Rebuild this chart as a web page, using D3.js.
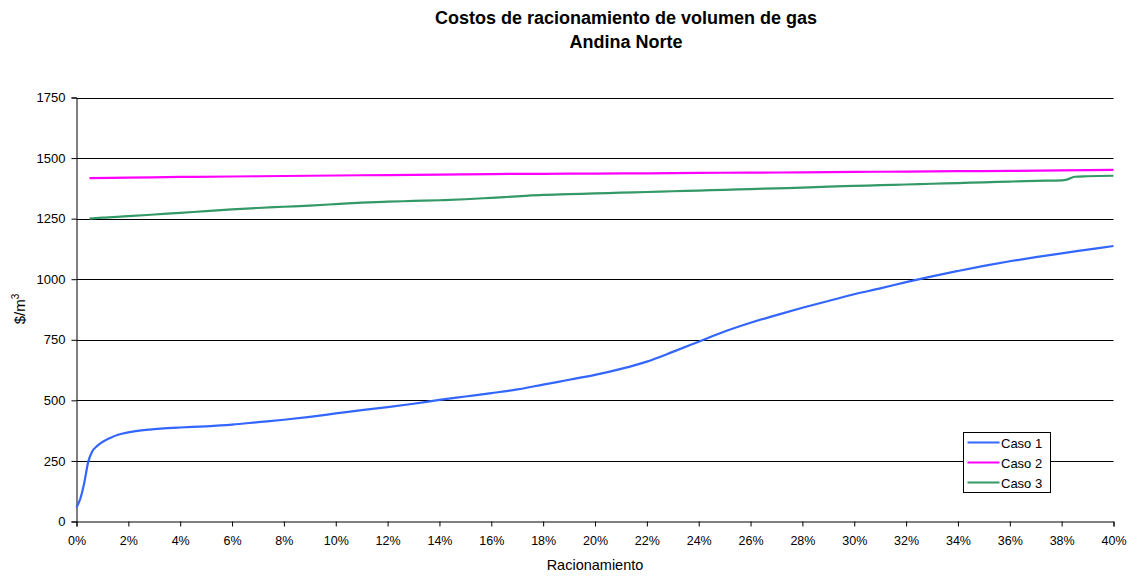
<!DOCTYPE html>
<html>
<head>
<meta charset="utf-8">
<script src="https://cdn.jsdelivr.net/npm/d3@7"></script>
<style>
  html, body { margin: 0; padding: 0; background: #fff; }
  svg { display: block; font-family: "Liberation Sans", Arial, sans-serif; }
</style>
</head>
<body>
<svg id="chart" width="1130" height="576"></svg>
<script>
// Rationing share (%) and cost ($/m3) for each case
const caso1X = [0, 0.15, 0.3, 0.45, 0.6, 0.8, 1.0, 1.3, 1.6, 2.0, 2.5, 3, 3.5, 4, 5, 6, 7, 8, 9, 10,
  11, 12, 13, 14, 15, 16, 17, 18, 19, 20, 21, 22, 23, 24, 25, 26, 27, 28, 29, 30,
  31, 32, 33, 34, 35, 36, 37, 38, 39, 40];
const caso1Y = [58, 95, 160, 245, 288, 312, 328, 345, 358, 368, 376, 381, 385, 388, 393, 400, 410, 420, 432, 446,
  460, 472, 486, 502, 516, 530, 545, 565, 585, 605, 630, 660, 700, 742, 784, 820, 852, 882, 910, 938,
  962, 988, 1012, 1034, 1055, 1074, 1091, 1107, 1122, 1137];

const caso2X = [0.5, 2, 4, 6, 8, 10, 12, 14, 16, 18, 20, 22, 24, 26, 28, 30, 32, 34, 36, 38, 40];
const caso2Y = [1417, 1419, 1422, 1424, 1426, 1428, 1430, 1432, 1434, 1435, 1436, 1437, 1439, 1440, 1441, 1443, 1444, 1446, 1447, 1449, 1451];

const caso3X = [0.5, 1, 2, 3, 4, 5, 6, 7, 8, 9, 10, 11, 12, 13, 14, 15, 16, 17, 18, 19, 20,
  21, 22, 23, 24, 25, 26, 27, 28, 29, 30, 31, 32, 33, 34, 35, 36, 37, 38, 38.2, 38.5, 39, 40];
const caso3Y = [1250, 1254, 1260, 1267, 1274, 1281, 1288, 1294, 1299, 1304, 1310, 1316, 1320, 1323, 1326, 1330, 1336, 1342, 1348, 1351, 1354,
  1357, 1360, 1363, 1366, 1369, 1372, 1375, 1378, 1382, 1385, 1388, 1391, 1394, 1397, 1400, 1403, 1406, 1408, 1411, 1423, 1425, 1427];

const seriesNames = ["Caso 1", "Caso 2", "Caso 3"];
const seriesColors = ["#3366ff", "#ff00ff", "#339966"];

const yTicks = [0, 250, 500, 750, 1000, 1250, 1500, 1750];
const xTicks = d3.range(0, 41, 2);

const titleLines = ["Costos de racionamiento de volumen de gas", "Andina Norte"];
const xTitle = "Racionamiento";

const svg = d3.select("#chart");
const margin = { left: 76.5, right: 1113.5, top: 97.5, bottom: 521.5 };

const x = d3.scaleLinear().domain([0, 40]).range([margin.left, margin.right]);
const y = d3.scaleLinear().domain([0, 1750]).range([margin.bottom, margin.top]);

// Title
svg.append("g").selectAll("text").data(titleLines).join("text")
  .attr("x", 626).attr("y", (d, i) => 24 + i * 23.5)
  .attr("text-anchor", "middle")
  .attr("font-size", 18).attr("font-weight", "bold")
  .text(d => d);

// Horizontal gridlines
svg.append("g").selectAll("line").data(yTicks.filter(v => v > 0)).join("line")
  .attr("x1", margin.left).attr("x2", margin.right)
  .attr("y1", d => Math.round(y(d)) + 0.5).attr("y2", d => Math.round(y(d)) + 0.5)
  .attr("stroke", "#000").attr("stroke-width", 1);

// Axes
const yAxis = svg.append("g")
  .attr("transform", `translate(${margin.left},0)`)
  .call(d3.axisLeft(y).tickValues(yTicks).tickSize(5).tickPadding(6).tickFormat(d3.format("d")));
const xAxis = svg.append("g")
  .attr("transform", `translate(0,${margin.bottom})`)
  .call(d3.axisBottom(x).tickValues(xTicks).tickSize(5).tickPadding(10).tickFormat(d => d + "%"));

[yAxis, xAxis].forEach(a => {
  a.select(".domain").attr("stroke", "#000");
  a.selectAll(".tick line").attr("stroke", "#000");
  a.selectAll(".tick text").attr("fill", "#000")
    .attr("font-family", "'Liberation Sans', Arial, sans-serif");
});
yAxis.selectAll(".tick text").attr("font-size", 13);
xAxis.selectAll(".tick text").attr("font-size", 12.5);

// Axis titles
svg.append("text")
  .attr("x", 595).attr("y", 570)
  .attr("text-anchor", "middle").attr("font-size", 14.5)
  .text(xTitle);

const yLab = svg.append("text")
  .attr("transform", "translate(25,309) rotate(-90)")
  .attr("text-anchor", "middle").attr("font-size", 15);
yLab.append("tspan").text("$/m");
yLab.append("tspan").attr("font-size", 10).attr("dy", -6).text("3");

// Series lines
const seriesData = [
  caso1X.map((v, i) => [v, caso1Y[i]]),
  caso2X.map((v, i) => [v, caso2Y[i]]),
  caso3X.map((v, i) => [v, caso3Y[i]])
];
const line = d3.line().x(d => x(d[0])).y(d => y(d[1])).curve(d3.curveMonotoneX);

svg.append("g").selectAll("path").data(seriesData).join("path")
  .attr("d", line)
  .attr("fill", "none")
  .attr("stroke", (d, i) => seriesColors[i])
  .attr("stroke-width", 2.2)
  .attr("stroke-linejoin", "round");

// Legend
const lg = svg.append("g").attr("transform", "translate(963.5,432.5)");
lg.append("rect").attr("width", 87).attr("height", 60)
  .attr("fill", "#fff").attr("stroke", "#000").attr("stroke-width", 1);
const items = lg.selectAll("g").data(seriesNames).join("g")
  .attr("transform", (d, i) => `translate(0,${10 + i * 20})`);
items.append("line").attr("x1", 4).attr("x2", 36)
  .attr("stroke", (d, i) => seriesColors[i]).attr("stroke-width", 2);
items.append("text").attr("x", 37.5).attr("y", 5)
  .attr("font-size", 13).text(d => d);
</script>
</body>
</html>
